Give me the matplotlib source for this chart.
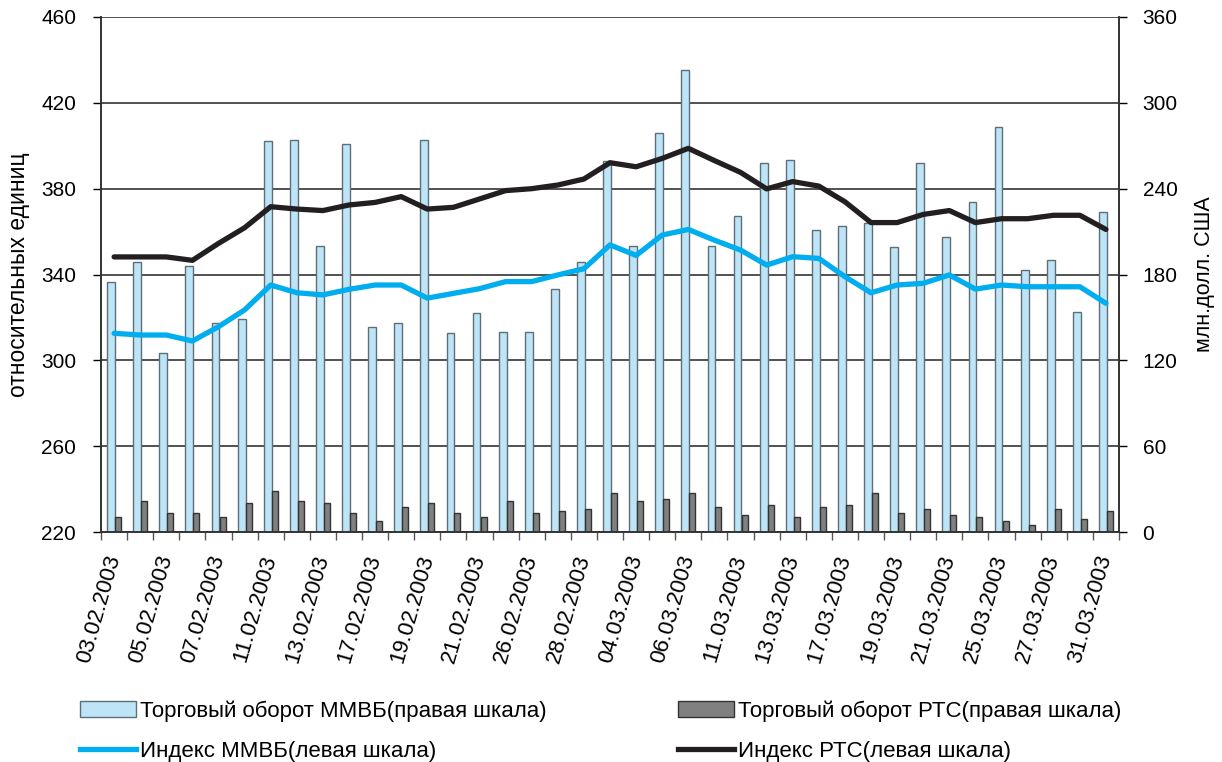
import matplotlib
matplotlib.use('Agg')
import matplotlib.pyplot as plt
import numpy as np
from matplotlib.patches import Patch
from matplotlib.lines import Line2D

plt.rcParams['font.family'] = ['Liberation Sans', 'DejaVu Sans']

# trading days, Feb-Mar 2003
dates = ['03.02', '04.02', '05.02', '06.02', '07.02', '10.02', '11.02', '12.02', '13.02', '14.02',
         '17.02', '18.02', '19.02', '20.02', '21.02', '25.02', '26.02', '27.02', '28.02',
         '03.03', '04.03', '05.03', '06.03', '07.03', '11.03', '12.03', '13.03', '14.03',
         '17.03', '18.03', '19.03', '20.03', '21.03', '24.03', '25.03', '26.03', '27.03',
         '28.03', '31.03']
dates = [d + '.2003' for d in dates]

# turnover, mln USD (right axis)
micex_turnover = [175, 189, 125, 186, 146, 149, 273, 274, 200, 271, 143, 146, 274, 139, 153,
                  140, 140, 170, 189, 259, 200, 279, 323, 200, 221, 258, 260, 211, 214, 216,
                  199, 258, 206, 231, 283, 183, 190, 154, 224]
rts_turnover = [10.3, 21.5, 13.1, 13.1, 10.3, 20.1, 28.5, 21.5, 20.1, 13.1, 7.5, 17.3, 20.1,
                13.1, 10.3, 21.5, 13.1, 14.5, 15.9, 27.1, 21.5, 22.9, 27.1, 17.3, 11.7, 18.7,
                10.3, 17.3, 18.7, 27.1, 13.1, 15.9, 11.7, 10.3, 7.5, 4.7, 15.9, 8.9, 14.5]

# indices (left axis)
micex_index = [312.6, 311.8, 311.8, 309.0, 315.7, 323.5, 335.1, 331.5, 330.5, 333.1, 335.1,
               335.1, 329.0, 331.2, 333.4, 336.7, 336.7, 339.8, 342.7, 353.8, 348.9, 358.4,
               361.0, 356.0, 351.4, 344.4, 348.3, 347.5, 339.0, 331.5, 335.1, 335.9, 339.8,
               333.2, 335.1, 334.3, 334.3, 334.3, 326.6]
rts_index = [348.2, 348.2, 348.2, 346.6, 354.5, 361.8, 371.6, 370.5, 369.8, 372.4, 373.6,
             376.3, 370.5, 371.3, 375.2, 379.1, 380.0, 381.7, 384.5, 392.1, 390.2, 394.1,
             398.8, 393.1, 387.6, 379.9, 383.3, 381.2, 373.9, 364.2, 364.2, 368.0, 369.8,
             364.2, 366.0, 366.0, 367.6, 367.6, 361.0]

light = '#bde4f7'
dark = '#808080'
blue = '#00aeef'
black = '#231f20'

fig = plt.figure(figsize=(12.22, 7.62), dpi=100)
ax = fig.add_axes([0.0827, 0.3018, 0.8330, 0.6759])
ax2 = ax.twinx()

x = np.arange(len(dates))

# bars on the right scale
ax2.bar(x - 0.115, micex_turnover, width=0.30, color=light, edgecolor='#5f6f78', linewidth=1.0)
ax2.bar(x + 0.155, rts_turnover, width=0.23, color=dark, edgecolor='#333333', linewidth=1.0)
ax2.set_ylim(0, 360)
ax2.set_yticks(range(0, 361, 60))
ax2.yaxis.grid(True, color='#222222', linewidth=1.1)
ax2.set_axisbelow(True)

# lines on the left scale, drawn above the bars
ax.set_zorder(ax2.get_zorder() + 1)
ax.patch.set_visible(False)
ax.plot(x, micex_index, color=blue, linewidth=3.8, solid_capstyle='round')
ax.plot(x, rts_index, color=black, linewidth=3.8, solid_capstyle='round')
ax.set_ylim(220, 460)
ax.set_yticks(range(220, 461, 40))
ax.set_xlim(-0.5, len(dates) - 0.5)

ax.set_xticks(x[::2])
ax.set_xticklabels(dates[::2], rotation=74, ha='right', va='center', rotation_mode='anchor')
ax.set_xticks(np.arange(-0.5, len(dates), 1), minor=True)
ax.tick_params(axis='x', which='major', length=0, pad=17, labelsize=16)
ax.tick_params(axis='x', which='minor', length=6, width=1, color='#555555')
ax.tick_params(axis='y', length=6, width=1, labelsize=15, pad=12)
ax2.tick_params(axis='y', length=6, width=1, labelsize=15, pad=11)

for a in (ax, ax2):
    a.spines['top'].set_visible(False)
    for s in ('left', 'right', 'bottom'):
        a.spines[s].set_color('#333333')
        a.spines[s].set_linewidth(1.2)

ax.set_ylabel('относительных единиц', fontsize=16.5, labelpad=8)
ax2.set_ylabel('млн.долл. США', fontsize=15.5, labelpad=12)

col1 = [
    Patch(facecolor=light, edgecolor='#5f6f78', label='Торговый оборот ММВБ(правая шкала)'),
    Line2D([], [], color=blue, linewidth=3.8, label='Индекс ММВБ(левая шкала)'),
]
col2 = [
    Patch(facecolor=dark, edgecolor='#333333', label='Торговый оборот РТС(правая шкала)'),
    Line2D([], [], color=black, linewidth=3.8, label='Индекс РТС(левая шкала)'),
]
for handles, x0 in ((col1, 80 / 1222), (col2, 678 / 1222)):
    fig.legend(handles=handles, loc='upper left', bbox_to_anchor=(x0, 0.081),
               frameon=False, fontsize=16, handlelength=2.5, handletextpad=0.2,
               labelspacing=0.85, borderpad=0, borderaxespad=0)

fig.savefig('out.png', dpi=100)
